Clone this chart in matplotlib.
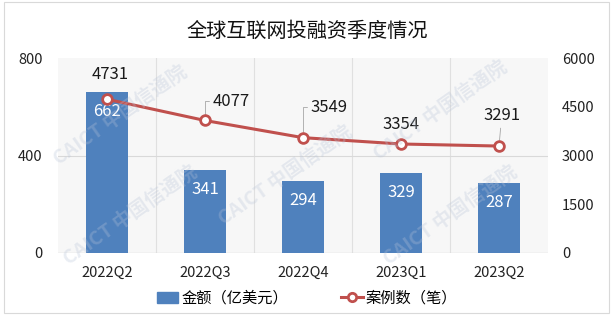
import matplotlib.pyplot as plt
import matplotlib.patches as mpatches
from matplotlib.lines import Line2D
import numpy as np

plt.rcParams['font.family'] = ['Noto Sans CJK SC', 'DejaVu Sans']
plt.rcParams['hatch.color'] = '#e6e6e6'
plt.rcParams['hatch.linewidth'] = 0.5

categories = ['2022Q2', '2022Q3', '2022Q4', '2023Q1', '2023Q2']
amount = [662, 341, 294, 329, 287]
cases = [4731, 4077, 3549, 3354, 3291]
title = '全球互联网投融资季度情况'
bar_label = '金额（亿美元）'
line_label = '案例数（笔）'

bar_color = '#4f81bd'
line_color = '#c0504d'

fig = plt.figure(figsize=(6.14, 3.15), dpi=100)
ax = fig.add_axes([58/614, 1-253/315, 490/614, 195/315])
ax2 = ax.twinx()

x = np.arange(len(categories))
ax.set_xlim(-0.5, len(categories)-0.5)
ax.set_ylim(0, 800)
ax2.set_ylim(0, 6000)

# background pattern
ax.add_patch(mpatches.Rectangle((0, 0), 1, 1, transform=ax.transAxes, facecolor='#f7f7f7',
                                edgecolor='none', hatch='xxxx', zorder=0))
for b in np.arange(0.5, len(categories)-0.5, 1):
    ax.axvline(b, color='#e0e0e0', lw=0.8, zorder=0.5)
ax.axhline(400, color='#d9d9d9', lw=0.8, zorder=0.5)
ax.axhline(0, color='#d9d9d9', lw=1.0, zorder=0.5)

bars = ax.bar(x, amount, width=0.43, color=bar_color, zorder=2)
for xi, v in zip(x, amount):
    ax.annotate(str(v), (xi, v), xytext=(0, -8), textcoords='offset points',
                ha='center', va='top', color='white', fontsize=12, zorder=5)

ax2.plot(x, cases, color=line_color, lw=2.2, marker='o', markersize=7,
         markerfacecolor='white', markeredgecolor=line_color, markeredgewidth=2, zorder=4)

offsets = [(2, 18, False), (19, 14, True), (19, 22, True), (0, 14, False), (2, 22, True)]
for xi, v, (dx, dy, lead) in zip(x, cases, offsets):
    kw = {}
    if lead:
        kw['arrowprops'] = dict(arrowstyle='-', color='#a6a6a6', lw=0.6, shrinkA=1, shrinkB=4,
                                connectionstyle='angle,angleA=0,angleB=90,rad=0' if dx > 5 else 'arc3')
    ax2.annotate(str(v), (xi, v), xytext=(dx, dy), textcoords='offset points',
                 ha='center', va='center', fontsize=12, color='#1a1a1a', **kw)

ax.set_zorder(ax2.get_zorder() - 1)
ax.patch.set_visible(False)
ax2.patch.set_visible(False)

for a in (ax, ax2):
    for s in a.spines.values():
        s.set_visible(False)
    a.tick_params(length=0, labelsize=10.5, colors='#222222')

ax.set_yticks([0, 400, 800])
ax2.set_yticks([0, 1500, 3000, 4500, 6000])
ax.set_xticks(x)
ax.set_xticklabels(categories, fontsize=10.5)
ax.tick_params(axis='x', pad=9)
ax.tick_params(axis='y', pad=11)
ax2.tick_params(axis='y', pad=10)

fig.text(0.5, 1-31/315, title, ha='center', va='center', fontsize=14.5, color='#111111')

# watermarks
wm = [(120, 115), (440, 110), (130, 215), (450, 215), (285, 175)]
for wx, wy in wm:
    fig.text(wx/614, 1-wy/315, 'CAICT 中国信通院', rotation=35, fontsize=14,
             color='#b8c4d8', alpha=0.3, ha='center', va='center', fontweight='bold', zorder=10)

handles = [mpatches.Patch(color=bar_color, label=bar_label),
           Line2D([0], [0], color=line_color, lw=2.2, marker='o', markersize=6,
                  markerfacecolor='white', markeredgecolor=line_color, markeredgewidth=2,
                  label=line_label)]
fig.legend(handles=handles, loc='center', bbox_to_anchor=(0.5, 1-298/315), ncol=2,
           frameon=False, fontsize=11, handlelength=1.4, handletextpad=0.2, columnspacing=3.5)

fig.add_artist(mpatches.Rectangle((4/614, 2/315), 605/614, 311/315, transform=fig.transFigure,
                                  fill=False, edgecolor='#d9d9d9', lw=0.8))

fig.savefig('out.png', dpi=100)
